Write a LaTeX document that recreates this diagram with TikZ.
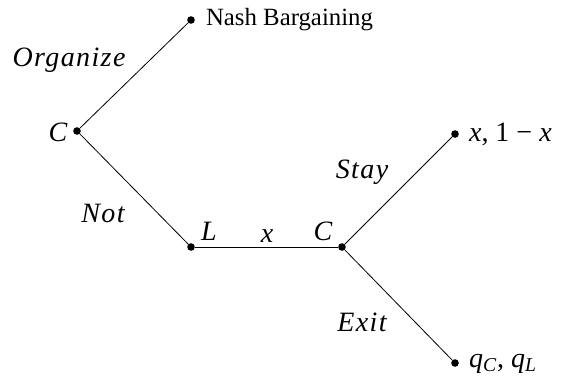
\documentclass[tikz,border=0pt]{standalone}
\usepackage{fontspec}
\setmainfont{Liberation Serif}
\newcommand{\mi}{\fontsize{14}{16}\selectfont\itshape\addfontfeature{LetterSpace=5}}
\begin{document}
\begin{tikzpicture}[x=0.5pt,y=-0.5pt,font=\fontsize{12.4}{14}\selectfont,
  dot/.style={circle,fill,inner sep=0pt,minimum size=3.8pt},
  act/.style={font=\mi}]

\useasboundingbox (0,0) rectangle (562,377);

% Decision nodes
\node[dot] (root) at (77,131) {};
\node[dot] (nash) at (191,20) {};
\node[dot] (lead) at (191,247) {};
\node[dot] (chal) at (342,247) {};
\node[dot] (stay) at (455,134) {};
\node[dot] (exit) at (455,363) {};

% Branches
\draw (root)--(nash);
\draw (root)--(lead);
\draw (lead)--(chal);
\draw (chal)--(stay);
\draw (chal)--(exit);

% Players
\node[act] at (58,132) {C};
\node[act] at (209,231) {L};
\node[act] at (323,231) {C};

% Actions
\node[act] at (69,60) {Organize};
\node[act] at (103,213) {Not};
\node[act] at (267,236) {x};
\node[act] at (362,172) {Stay};
\node[act] at (362,322) {Exit};

% Payoffs
\node[anchor=west] at (199,20) {Nash Bargaining};
\node[anchor=west,font=\fontsize{14}{16}\selectfont] at (462,134) {\textit{x}, 1 − \textit{x}};
\node[anchor=west,font=\fontsize{14}{16}\selectfont] at (462,364) {\textit{q}\textsubscript{\itshape C}, \textit{q}\textsubscript{\itshape L}};

\end{tikzpicture}
\end{document}
